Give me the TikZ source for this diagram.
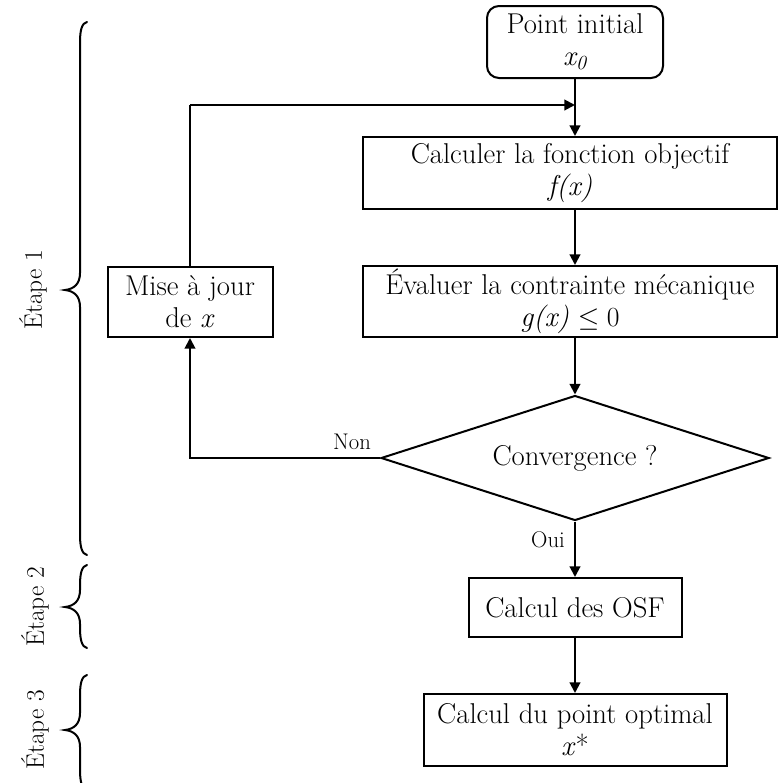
\documentclass[tikz,border=0pt]{standalone}
\usetikzlibrary{shapes.geometric,arrows.meta}
\newcommand\mybrace[4]{% #1 top, #2 mid, #3 bottom, #4 name
  \draw[brc] (87,#1) .. controls (82,#1+1) and (80,#1+8) .. (80,#1+20)
    -- (80,#2-17) .. controls (80,#2-6) and (74,#2-1) .. (65,#2)
    .. controls (74,#2+1) and (80,#2+6) .. (80,#2+17)
    -- (80,#3-20) .. controls (80,#3-8) and (82,#3-1) .. (87,#3);
  \coordinate (#4) at (65,#2);}
\begin{document}
\begin{tikzpicture}[x=0.75pt,y=-0.75pt,
  box/.style={draw,line width=1.5pt,align=center,inner sep=0pt,font=\fontsize{21.5}{24}\selectfont},
  arr/.style={line width=1.5pt,-{Triangle[length=8pt,width=8pt]}},
  ln/.style={line width=1.5pt},
  lab/.style={font=\fontsize{17}{19}\selectfont},
  brc/.style={line width=1.5pt,line cap=round},
  etape/.style={rotate=90,font=\fontsize{19}{22}\selectfont}]
\useasboundingbox (0,0) rectangle (779,783);
\node[box,rounded corners=9pt,minimum width=132pt,minimum height=54pt] (init) at (575,42) {Point initial\\ \textit{x\textsubscript{0}}};
\node[box,minimum width=310.5pt,minimum height=54pt] (calc) at (570,173) {Calculer la fonction objectif\\ \textit{f(x)}};
\node[box,minimum width=310.5pt,minimum height=53.25pt] (eval) at (570,301.5) {\'Evaluer la contrainte m\'ecanique\\ \textit{g(x)} $\leq 0$};
\node[box,minimum width=123.75pt,minimum height=52.5pt] (maj) at (190,302) {Mise \`a jour\\ de \textit{x}};
\node[box,diamond,aspect=3.1,minimum width=291pt,minimum height=93.75pt] (conv) at (575,458) {Convergence ?};
\node[box,minimum width=159.75pt,minimum height=44.25pt] (osf) at (575,607.5) {Calcul des OSF};
\node[box,minimum width=227.25pt,minimum height=54pt] (opt) at (575,730) {Calcul du point optimal\\ \textit{x}*};
\coordinate (c1) at (190,105);
\draw[arr] (init.south) -- (init.south |- calc.north);
\draw[ln] (maj.north) -- (c1);
\draw[arr] (c1) -- (init.south |- c1);
\draw[arr] (init.south |- calc.south) -- (init.south |- eval.north);
\draw[arr] (conv.north |- eval.south) -- (conv.north);
\draw[arr] (conv.west) -| (maj.south);
\draw[arr] (conv.south) -- (osf.north);
\draw[arr] (osf.south) -- (opt.north);
\node[lab] (non) at (352,442) {Non};
\node[lab] (oui) at (548,540) {Oui};
\mybrace{22}{290}{555}{b1}
\mybrace{565}{607}{648}{b2}
\mybrace{675}{730}{790}{b3}
\node[etape] (e1) at (33,290) {\'Etape 1};
\node[etape] (e2) at (35,607) {\'Etape 2};
\node[etape] (e3) at (35,730) {\'Etape 3};
\end{tikzpicture}
\end{document}
